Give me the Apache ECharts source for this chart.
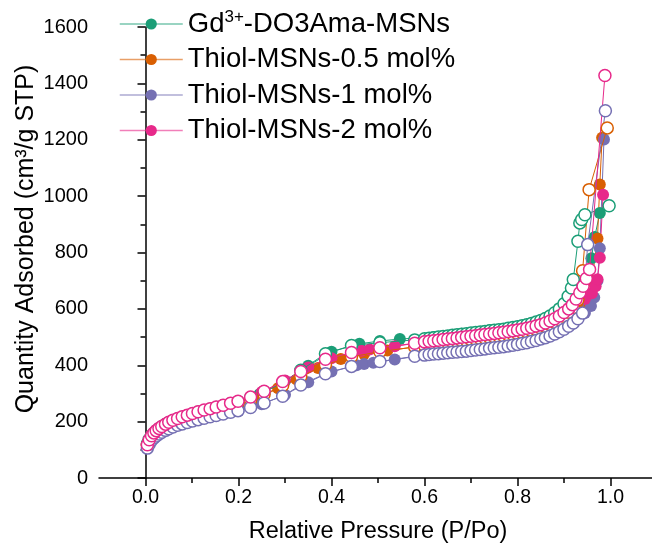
<!DOCTYPE html>
<html>
<head>
<meta charset="utf-8">
<script src="https://cdn.jsdelivr.net/npm/echarts@6/dist/echarts.min.js"></script>
<style>
  html, body { margin: 0; padding: 0; background: #fff; }
  #chart { width: 652px; height: 546px; }
</style>
</head>
<body>
<div id="chart"></div>
<script>
// N2 sorption isotherms: open circles = one branch, filled circles = the other branch.

const seriesNames = ['Gd3+-DO3Ama-MSNs', 'Thiol-MSNs-0.5 mol%', 'Thiol-MSNs-1 mol%', 'Thiol-MSNs-2 mol%'];
const seriesColors = ['#1b9e77', '#d95f02', '#7570b3', '#e7298a'];

// Relative pressures shared by the open-circle branches (up to 0.89)
const pOpen = [0.004, 0.008, 0.013, 0.018, 0.023, 0.029, 0.035, 0.043, 0.050, 0.059,
  0.069, 0.079, 0.090, 0.101, 0.113, 0.126, 0.139, 0.152, 0.167, 0.183,
  0.199, 0.226, 0.255, 0.295, 0.334, 0.387, 0.443, 0.504, 0.579, 0.600,
  0.61, 0.62, 0.63, 0.64, 0.65, 0.66, 0.67, 0.68, 0.69, 0.70,
  0.71, 0.72, 0.73, 0.74, 0.75, 0.76, 0.77, 0.78, 0.79, 0.80,
  0.81, 0.82, 0.83, 0.84, 0.85, 0.86, 0.87, 0.88, 0.89];

// Quantity adsorbed (cm3/g STP) on the pOpen grid
const qOpenGd = [121, 137, 150, 159, 167, 175, 182, 190, 196, 203,
  209, 215, 221, 227, 233, 239, 244, 250, 256, 263,
  270, 285, 305, 338, 382, 441, 470, 480, 490, 494,
  496, 498, 500, 502, 504, 506, 508, 510, 512, 514,
  516, 518, 520, 522, 524, 526, 528, 531, 534, 537,
  540, 544, 548, 553, 559, 566, 575, 586, 600];
const qOpenT05 = [116, 132, 146, 155, 163, 170, 177, 185, 191, 198,
  204, 209, 215, 221, 226, 232, 237, 243, 249, 255,
  262, 276, 296, 328, 360, 402, 430, 448, 465, 470,
  472, 474, 476, 478, 480, 482, 484, 486, 488, 490,
  492, 494, 496, 498, 500, 502, 504, 507, 509, 512,
  515, 518, 522, 526, 531, 537, 544, 552, 562];
const qOpenT1 = [106, 120, 133, 142, 149, 156, 162, 169, 175, 181,
  187, 192, 197, 202, 207, 212, 217, 222, 227, 233,
  239, 250, 266, 290, 330, 370, 396, 413, 432, 436,
  438, 440, 441, 443, 444, 446, 447, 449, 450, 452,
  454, 456, 458, 460, 462, 464, 466, 468, 471, 474,
  477, 480, 484, 488, 493, 498, 504, 511, 519];
const qOpenT2 = [118, 136, 150, 160, 168, 176, 183, 191, 198, 205,
  211, 217, 223, 229, 235, 241, 246, 252, 258, 265,
  272, 287, 308, 342, 378, 421, 445, 462, 478, 483,
  485, 487, 489, 491, 493, 495, 497, 499, 501, 503,
  505, 507, 509, 511, 513, 515, 517, 520, 522, 525,
  528, 531, 535, 539, 544, 550, 557, 565, 575];

// High-pressure ends of the open-circle branches
const pOpenTailGd = [0.900, 0.909, 0.916, 0.920, 0.930, 0.934, 0.938, 0.945, 0.997];
const qOpenTailGd = [618, 645, 674, 704, 840, 905, 917, 934, 966];
const pOpenTailT05 = [0.900, 0.910, 0.920, 0.930, 0.940, 0.954, 0.993];
const qOpenTailT05 = [574, 588, 605, 632, 735, 1023, 1242];
const pOpenTailT1 = [0.900, 0.910, 0.920, 0.930, 0.940, 0.951, 0.989];
const qOpenTailT1 = [528, 538, 550, 565, 585, 828, 1303];
const pOpenTailT2 = [0.900, 0.910, 0.918, 0.926, 0.934, 0.941, 0.948, 0.955, 0.988];
const qOpenTailT2 = [587, 600, 615, 635, 657, 680, 708, 740, 1428];

// Filled-circle branches
const pFillGd = [0.200, 0.245, 0.300, 0.350, 0.400, 0.460, 0.504, 0.547, 0.620, 0.680, 0.740, 0.800, 0.850, 0.890, 0.920, 0.945, 0.959, 0.966, 0.977];
const qFillGd = [272, 297, 344, 398, 448, 476, 486, 493, 500, 512, 524, 537, 556, 598, 650, 700, 780, 855, 940];
const pFillT05 = [0.200, 0.244, 0.285, 0.325, 0.371, 0.420, 0.470, 0.520, 0.580, 0.640, 0.700, 0.760, 0.820, 0.870, 0.910, 0.940, 0.960, 0.972, 0.977, 0.982];
const qFillT05 = [264, 284, 318, 349, 390, 422, 440, 452, 465, 477, 489, 501, 516, 542, 580, 620, 700, 850, 1041, 1207];
const pFillT1 = [0.200, 0.250, 0.300, 0.350, 0.400, 0.454, 0.470, 0.490, 0.536, 0.600, 0.660, 0.720, 0.780, 0.840, 0.890, 0.920, 0.945, 0.958, 0.965, 0.972, 0.977, 0.986];
const qFillT1 = [238, 262, 295, 340, 378, 400, 404, 409, 420, 436, 445, 455, 468, 488, 519, 548, 585, 610, 640, 700, 815, 1201];
const pFillT2 = [0.200, 0.250, 0.300, 0.350, 0.400, 0.464, 0.482, 0.536, 0.600, 0.660, 0.720, 0.780, 0.840, 0.890, 0.920, 0.945, 0.960, 0.968, 0.972, 0.977, 0.984];
const qFillT2 = [272, 305, 346, 392, 425, 451, 456, 467, 483, 495, 507, 520, 539, 575, 605, 635, 655, 680, 705, 781, 1005];

// Axis ticks
const xMajorTicks = [0, 0.2, 0.4, 0.6, 0.8, 1.0];
const xMinorTicks = [0.1, 0.3, 0.5, 0.7, 0.9];

const FONT = "'Liberation Sans', Arial, Helvetica, sans-serif";

function pairs(ps, qs) { return ps.map((p, i) => [p, qs[i]]); }

const openSets = [
  pairs(pOpen, qOpenGd).concat(pairs(pOpenTailGd, qOpenTailGd)),
  pairs(pOpen, qOpenT05).concat(pairs(pOpenTailT05, qOpenTailT05)),
  pairs(pOpen, qOpenT1).concat(pairs(pOpenTailT1, qOpenTailT1)),
  pairs(pOpen, qOpenT2).concat(pairs(pOpenTailT2, qOpenTailT2))
];
const fillSets = [
  pairs(pFillGd, qFillGd),
  pairs(pFillT05, qFillT05),
  pairs(pFillT1, qFillT1),
  pairs(pFillT2, qFillT2)
];

const SYM = 12;
const series = [];
// filled branches underneath
fillSets.forEach((d, i) => {
  series.push({
    name: seriesNames[i],
    type: 'line',
    data: d,
    symbol: 'circle',
    symbolSize: SYM,
    showAllSymbol: true,
    lineStyle: { color: seriesColors[i], width: 1 },
    itemStyle: { color: seriesColors[i], borderWidth: 0 },
    emphasis: { disabled: true },
    z: 2
  });
});
// open branches on top
openSets.forEach((d, i) => {
  series.push({
    name: seriesNames[i] + ' (open)',
    type: 'line',
    data: d,
    symbol: 'circle',
    symbolSize: SYM,
    showAllSymbol: true,
    lineStyle: { color: seriesColors[i], width: 1 },
    itemStyle: { color: '#ffffff', borderColor: seriesColors[i], borderWidth: 1.5 },
    emphasis: { disabled: true },
    z: 3
  });
});

const axisLineStyle = { color: '#000', width: 1.5 };

const chart = echarts.init(document.getElementById('chart'), null, { renderer: 'canvas' });
chart.setOption({
  animation: false,
  backgroundColor: '#fff',
  grid: { left: 99, right: -5, top: 27, bottom: 68, containLabel: false, outerBoundsMode: 'none' },
  legend: {
    data: seriesNames,
    orient: 'vertical',
    left: 119,
    top: 9,
    padding: 0,
    itemGap: 5.5,
    itemWidth: 63,
    itemHeight: 14,
    selectedMode: false,
    lineStyle: { width: 1.5, opacity: 0.6 },
    formatter: function (name) {
      return name === seriesNames[0] ? 'Gd{sup|3+}-DO3Ama-MSNs' : name;
    },
    textStyle: {
      fontFamily: FONT,
      fontSize: 27.5,
      lineHeight: 30,
      color: '#000',
      rich: {
        sup: { fontFamily: FONT, fontSize: 17, lineHeight: 18, color: '#000', verticalAlign: 'top' }
      }
    }
  },
  // vertical axis title
  graphic: [{
    type: 'text',
    x: 26,
    y: 239,
    rotation: Math.PI / 2,
    silent: true,
    style: {
      text: 'Quantity Adsorbed (cm³/g STP)',
      font: "25px 'Liberation Sans', Arial, Helvetica, sans-serif",
      fill: '#000',
      align: 'center',
      verticalAlign: 'middle'
    }
  }],
  xAxis: [{
    type: 'value',
    min: -0.1,
    max: 1.1,
    position: 'bottom',
    name: 'Relative Pressure (P/Po)',
    nameLocation: 'middle',
    nameGap: 42,
    nameTextStyle: { fontFamily: FONT, fontSize: 23.5, color: '#000' },
    axisLine: { show: true, lineStyle: axisLineStyle },
    axisTick: { show: true, inside: false, length: 8, customValues: xMajorTicks, lineStyle: axisLineStyle },
    axisLabel: {
      show: true, margin: 10, customValues: xMajorTicks,
      fontFamily: FONT, fontSize: 19.5, color: '#000',
      formatter: v => v.toFixed(1)
    },
    splitLine: { show: false }
  }, {
    type: 'value',
    min: -0.1,
    max: 1.1,
    position: 'bottom',
    axisLine: { show: false },
    axisTick: { show: true, inside: false, length: 5, customValues: xMinorTicks, lineStyle: axisLineStyle },
    axisLabel: { show: false },
    splitLine: { show: false }
  }],
  yAxis: {
    type: 'value',
    min: 0,
    max: 1600,
    interval: 200,
    axisLine: { show: true, lineStyle: axisLineStyle },
    axisTick: { show: true, inside: false, length: 8, lineStyle: axisLineStyle },
    minorTick: { show: true, splitNumber: 2, length: 5, lineStyle: axisLineStyle },
    axisLabel: {
      margin: 11, fontFamily: FONT, fontSize: 20, color: '#000',
      formatter: v => String(v)
    },
    splitLine: { show: false },
    minorSplitLine: { show: false }
  },
  series: series
});
</script>
</body>
</html>
